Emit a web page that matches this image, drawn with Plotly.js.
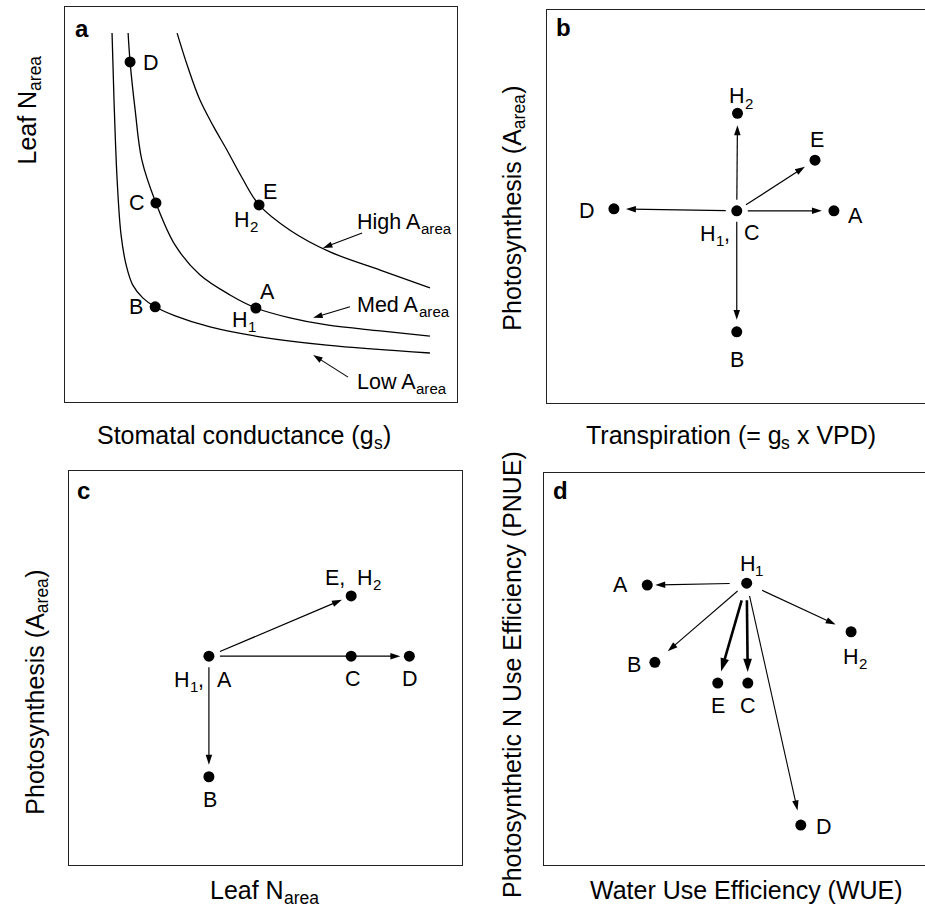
<!DOCTYPE html>
<html><head><meta charset="utf-8">
<script src="https://cdn.plot.ly/plotly-3.0.1.min.js"></script>
<style>html,body{margin:0;padding:0;background:#fff}#chart{width:925px;height:913px}</style>
</head><body><div id="chart"></div>
<script>
// ---------- Panel a: iso-photosynthesis curves (Leaf N_area vs g_s) ----------
const aLowX  = [12.0,12.5,13.3,14.3,15.6,17.3,19.9,23.0,28.1,37.0,49.7,66.8,93.1];
const aLowY  = [93.4,76.5,56.2,42.3,34.7,29.6,26.3,24.1,21.8,19.0,16.5,14.4,12.4];
const aMedX  = [16.1,16.6,17.9,19.6,23.2,28.1,34.4,42.1,48.7,57.4,66.8,80.4,93.1];
const aMedY  = [93.4,86.1,73.9,61.3,50.4,39.7,32.2,27.1,23.8,21.3,19.5,18.0,16.7];
const aHighX = [28.6,31.4,34.4,37.8,41.3,45.2,49.5,57.4,67.6,80.4,93.1];
const aHighY = [93.4,84.6,76.5,69.9,63.8,56.7,49.9,43.5,38.0,33.4,28.9];
const aPtLabels = ['D','C','B','A','E'];
const aPtX = [16.6,23.2,23.0,48.7,49.5];
const aPtY = [86.1,50.4,24.1,23.8,49.9];
const aCurveNames = ['High A_{area}','Med A_{area}','Low A_{area}'];

// ---------- Panel b: Photosynthesis vs Transpiration ----------
const bOrigin = {x:50.2, y:48.9};
const bPtLabels = ['H_{2}','E','D','A','B'];
const bPtX = [50.4,70.9,17.7,75.9,50.2];
const bPtY = [73.7,61.8,49.4,48.9,18.1];

// ---------- Panel c: Photosynthesis vs Leaf N_area ----------
const cOrigin = {x:35.6, y:53.0};
const cPtLabels = ['E,  H_{2}','C','D','B'];
const cPtX = [71.8,71.8,86.6,35.6];
const cPtY = [68.3,53.0,53.0,22.4];

// ---------- Panel d: PNUE vs WUE ----------
const dOrigin = {x:53.2, y:71.9};
const dPtLabels = ['A','B','E','C','H_{2}','D'];
const dPtX = [27.1,29.1,45.6,53.5,80.6,67.4];
const dPtY = [71.4,51.7,46.4,46.4,59.5,10.2];

// ---------- axis titles ----------
const titles = ['Leaf N_{area}','Stomatal conductance (g_{s})','Photosynthesis (A_{area})',
  'Transpiration (= g_{s} x VPD)','Photosynthesis (A_{area})','Leaf N_{area}',
  'Photosynthetic N Use Efficiency (PNUE)','Water Use Efficiency (WUE)'];
const panelLetters = ['a','b','c','d'];

// ================= layout / style =================
const W = 925, H = 913;
const FONT = 'Liberation Sans, Arial, Helvetica, sans-serif';
const LABEL_SIZE = 21.5, TITLE_SIZE = 25, LETTER_SIZE = 24;
// panel boxes in page pixels
const DOM = {
  '':  {x0:65,  x1:457, y0:7,   y1:402},
  '2': {x0:547, x1:925, y0:10,  y1:403},
  '3': {x0:69,  x1:462, y0:471, y1:865},
  '4': {x0:544, x1:925, y0:473, y1:865}
};

const cv = document.createElement('canvas').getContext('2d');
function measure(t, size, bold) {
  cv.font = (bold ? 'bold ' : '') + size + 'px "Liberation Sans", Arial, sans-serif';
  return cv.measureText(t).width;
}
function parse(str) {
  const parts = [];
  function pushMain(t) {
    const core = t.trim();
    if (!core) { parts.push({gap:t.length}); return; }
    const lead = t.length - t.replace(/^ +/, '').length;
    const trail = t.length - t.replace(/ +$/, '').length;
    if (lead) parts.push({gap:lead});
    const chunks = core.split(/( {2,})/);
    chunks.forEach(c => { if (/^ +$/.test(c)) parts.push({gap:c.length}); else if (c) parts.push({t:c}); });
    if (trail) parts.push({gap:trail});
  }
  const re = /_\{([^}]*)\}/g; let last = 0, m;
  while ((m = re.exec(str))) {
    if (m.index > last) pushMain(str.slice(last, m.index));
    parts.push({t:m[1], s:true});
    last = re.lastIndex;
  }
  if (last < str.length) pushMain(str.slice(last));
  return parts;
}
const ann = [];
// compose a label (with real subscripts as smaller text) centred at (x,y)+(dx,dy) px
function comp(xref, yref, x, y, str, S, dx, dy, angle) {
  const vertical = angle === -90;
  const parts = parse(str);
  const widths = parts.map(p => p.gap ? p.gap * measure(' ', S) : measure(p.t, p.s ? 0.7*S : S));
  const total = widths.reduce((a,b)=>a+b, 0);
  let cur = -total/2;
  parts.forEach((p,i) => {
    const c = cur + widths[i]/2; cur += widths[i];
    if (p.gap) return;
    const off = p.s ? 0.31*S : 0;
    const xs = vertical ? dx + off : dx + c;
    const ys = vertical ? dy + c : dy - off;
    ann.push({xref:xref, yref:yref, x:x, y:y, text:p.t, showarrow:false, textangle:angle||0,
      xanchor:'center', yanchor:'middle', xshift:xs, yshift:ys,
      font:{family:FONT, size:p.s ? 0.7*S : S, color:'#000'}});
  });
}
function lab(ax, x, y, str, dx, dy) { comp('x'+ax, 'y'+ax, x, y, str, LABEL_SIZE, dx, dy, 0); }
function labLeft(ax, x, y, str, dx, dy) {
  const parts = parse(str);
  const w = parts.map(p => p.gap ? p.gap*measure(' ', LABEL_SIZE) : measure(p.t, p.s ? 0.7*LABEL_SIZE : LABEL_SIZE)).reduce((a,b)=>a+b,0);
  comp('x'+ax, 'y'+ax, x, y, str, LABEL_SIZE, dx + w/2, dy, 0);
}
function pageText(px, py, str, S, angle) { comp('paper', 'paper', px/W, 1-py/H, str, S, 0, 0, angle); }

const traces = [];
function ltrace(xs, ys) {
  traces.push({type:'scatter', mode:'lines', x:xs, y:ys, xaxis:'x', yaxis:'y',
    line:{color:'#000', width:1.3, shape:'spline', smoothing:1}, hoverinfo:'skip', showlegend:false});
}
function ptrace(ax, xs, ys) {
  traces.push({type:'scatter', mode:'markers', x:xs, y:ys, xaxis:'x'+ax, yaxis:'y'+ax,
    marker:{size:11, color:'#000'}, hoverinfo:'skip', showlegend:false});
}
// arrow from (x0,y0) to (x1,y1) in data units, pulled back s0/s1 px at the ends
function arrow(ax, x0, y0, x1, y1, s0, s1, w, head) {
  const P = DOM[ax], sx = (P.x1-P.x0)/100, sy = (P.y1-P.y0)/100;
  const dxp = (x1-x0)*sx, dyp = (y1-y0)*sy, L = Math.hypot(dxp, dyp);
  const ux = dxp/L, uy = dyp/L;
  traces.push({type:'scatter', mode:'lines+markers',
    x:[x0 + ux*s0/sx, x1 - ux*s1/sx], y:[y0 + uy*s0/sy, y1 - uy*s1/sy],
    xaxis:'x'+ax, yaxis:'y'+ax, cliponaxis:false,
    line:{color:'#000', width:w, backoff:head*0.45},
    marker:{symbol:['circle','arrow'], size:[0, head], opacity:[0,1], angleref:'previous',
      color:'#000', line:{width:0}},
    hoverinfo:'skip', showlegend:false});
}

// ---- panel a ----
ltrace(aLowX, aLowY); ltrace(aMedX, aMedY); ltrace(aHighX, aHighY);
ptrace('', aPtX, aPtY);
const aShift = [[21,-1],[-19,0],[-19,0],[12,16],[11,13]];
aPtLabels.forEach((t,i)=>lab('', aPtX[i], aPtY[i], t, aShift[i][0], aShift[i][1]));
lab('', aPtX[3], aPtY[3], 'H_{1}', -12, -12);
lab('', aPtX[4], aPtY[4], 'H_{2}', -13, -15);
const aNameXY    = [[74.5,45.6],[74.5,24.6],[74.5,5.1]];
const aArrowTail = [[75.8,42.8],[72.7,24.1],[72.2,6.3]];
const aArrowHead = [[65.8,39.0],[63.3,21.3],[63.3,11.9]];
aCurveNames.forEach((t,i)=>{
  labLeft('', aNameXY[i][0], aNameXY[i][1], t, 0, 0);
  arrow('', aArrowTail[i][0], aArrowTail[i][1], aArrowHead[i][0], aArrowHead[i][1], 0, 0, 1.1, 10);
});

// ---- panel b ----
ptrace('2', [bOrigin.x].concat(bPtX), [bOrigin.y].concat(bPtY));
const bShift = [[4,17],[2,20],[-27,-2],[22,-5],[0,-28]];
bPtLabels.forEach((t,i)=>{
  lab('2', bPtX[i], bPtY[i], t, bShift[i][0], bShift[i][1]);
  arrow('2', bOrigin.x, bOrigin.y, bPtX[i], bPtY[i], 11, 12, 1.2, 10.5);
});
lab('2', bOrigin.x, bOrigin.y, 'H_{1},', -22, -23);
lab('2', bOrigin.x, bOrigin.y, 'C', 15, -22);

// ---- panel c ----
ptrace('3', [cOrigin.x].concat(cPtX), [cOrigin.y].concat(cPtY));
const cShift = [[2,18],[2,-23],[1,-23],[1,-23]];
cPtLabels.forEach((t,i)=>lab('3', cPtX[i], cPtY[i], t, cShift[i][0], cShift[i][1]));
arrow('3', cOrigin.x, cOrigin.y, cPtX[0], cPtY[0], 12, 10, 1.2, 10.5);
arrow('3', cOrigin.x, cOrigin.y, cPtX[2], cPtY[2], 11, 9, 1.2, 10.5);
arrow('3', cOrigin.x, cOrigin.y, cPtX[3], cPtY[3], 11, 12, 1.2, 10.5);
lab('3', cOrigin.x, cOrigin.y, 'H_{1},', -20, -24);
lab('3', cOrigin.x, cOrigin.y, 'A', 16, -24);

// ---- panel d ----
ptrace('4', [dOrigin.x].concat(dPtX), [dOrigin.y].concat(dPtY));
const dShift = [[-27,0],[-21,-3],[0,-23],[0,-23],[4,-25],[23,-2]];
const dStart = [17,12,18,17,17,13];
const dEnd   = [8,17,12,11,17,15];
const dWidth = [1.1,1.1,2.6,2.6,1.1,1.1];
dPtLabels.forEach((t,i)=>{
  lab('4', dPtX[i], dPtY[i], t, dShift[i][0], dShift[i][1]);
  arrow('4', dOrigin.x, dOrigin.y, dPtX[i], dPtY[i], dStart[i], dEnd[i], dWidth[i], dWidth[i] > 2 ? 14 : 10.5);
});
lab('4', dOrigin.x, dOrigin.y, 'H_{1}', 5, 19);

// ---- panel letters ----
const letterPos = [[82,29],[563,28],[83,490],[560,491]];
panelLetters.forEach((t,i)=>ann.push({xref:'paper', yref:'paper', x:letterPos[i][0]/W, y:1-letterPos[i][1]/H,
  text:'<b>'+t+'</b>', showarrow:false, xanchor:'center', yanchor:'middle',
  font:{family:FONT, size:LETTER_SIZE, color:'#000'}}));

// ---- axis titles ----
const titlePos = [[27,110,-90],[244,435,0],[512,208,-90],[731,435,0],[35,692,-90],[265,890,0],[512,675,-90],[746,890,0]];
titles.forEach((t,i)=>pageText(titlePos[i][0], titlePos[i][1], t, TITLE_SIZE, titlePos[i][2]));

function axis(ax, isX, mirror) {
  const P = DOM[ax];
  const dom = isX ? [P.x0/W, P.x1/W] : [1-P.y1/H, 1-P.y0/H];
  return {domain:dom, anchor:(isX?'y':'x')+ax, range:[0,100], showgrid:false, zeroline:false,
    showticklabels:false, ticks:'', showline:true, linecolor:'#222', linewidth:1,
    mirror:mirror, fixedrange:true};
}
const layout = {
  width:W, height:H, margin:{l:0,r:0,t:0,b:0},
  paper_bgcolor:'#fff', plot_bgcolor:'#fff', showlegend:false,
  font:{family:FONT, color:'#000'},
  xaxis:  axis('', true, true),   yaxis:  axis('', false, true),
  xaxis2: axis('2', true, true),  yaxis2: axis('2', false, false),
  xaxis3: axis('3', true, true),  yaxis3: axis('3', false, true),
  xaxis4: axis('4', true, true),  yaxis4: axis('4', false, false),
  annotations: ann
};
Plotly.newPlot('chart', traces, layout, {staticPlot:true, displayModeBar:false});
</script>
</body></html>
